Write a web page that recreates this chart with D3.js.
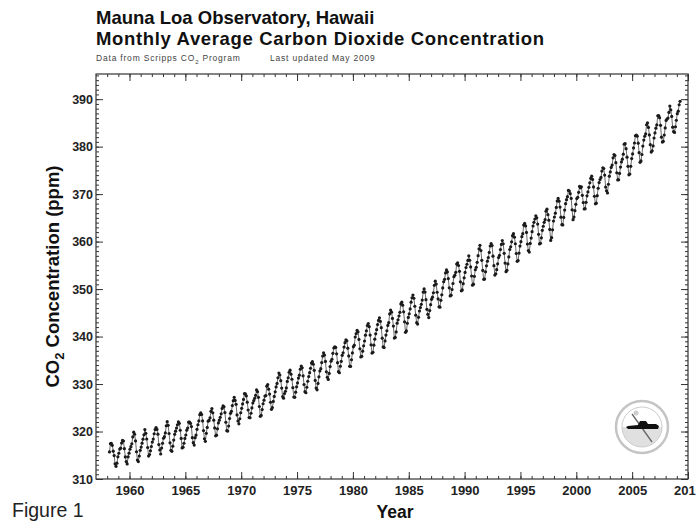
<!DOCTYPE html>
<html>
<head>
<meta charset="utf-8">
<script src="https://cdn.jsdelivr.net/npm/d3@7"></script>
<style>
  body { margin: 0; background: #fff; }
  svg { display: block; font-family: "Liberation Sans", Arial, sans-serif; }
</style>
</head>
<body>
<svg></svg>
<script>
const width = 696;
const height = 521;
const svg = d3.select("svg").attr("width", width).attr("height", height);

// monthly means (ppm), one row per year, Jan..Dec; null = no value
const years = [1958, 1959, 1960, 1961, 1962, 1963, 1964, 1965, 1966, 1967, 1968, 1969,
  1970, 1971, 1972, 1973, 1974, 1975, 1976, 1977, 1978, 1979, 1980, 1981, 1982, 1983,
  1984, 1985, 1986, 1987, 1988, 1989, 1990, 1991, 1992, 1993, 1994, 1995, 1996, 1997,
  1998, 1999, 2000, 2001, 2002, 2003, 2004, 2005, 2006, 2007, 2008, 2009];

const monthly = [
  [null, null, 315.71, 317.45, 317.50, 317.10, 315.86, 314.93, 313.20, 312.66, 313.33, 314.67],
  [315.42, 316.31, 316.50, 317.56, 318.13, 318.00, 316.39, 314.65, 313.68, 313.18, 314.66, 315.43],
  [316.27, 316.81, 317.42, 318.87, 319.87, 319.43, 318.01, 315.74, 314.00, 313.68, 314.84, 316.03],
  [316.73, 317.54, 318.38, 319.31, 320.42, 319.61, 318.42, 316.63, 314.83, 315.16, 315.94, 316.85],
  [317.78, 318.40, 319.53, 320.42, 320.85, 320.45, 319.45, 317.25, 316.11, 315.27, 316.53, 317.53],
  [318.58, 318.92, 319.70, 321.22, 322.08, 321.31, 319.58, 317.61, 316.05, 315.83, 316.91, 318.20],
  [319.41, 320.07, 320.74, 321.40, 322.06, 321.73, 320.27, 318.54, 316.54, 316.71, 317.53, 318.55],
  [319.27, 320.28, 320.73, 321.97, 322.00, 321.71, 321.05, 318.71, 317.66, 317.14, 318.70, 319.25],
  [320.46, 321.43, 322.23, 323.54, 323.91, 323.59, 322.24, 320.20, 318.48, 317.94, 319.63, 320.87],
  [322.17, 322.34, 322.88, 324.25, 324.83, 323.93, 322.38, 320.76, 319.10, 319.24, 320.56, 321.80],
  [322.40, 322.99, 323.73, 324.86, 325.40, 325.20, 323.98, 321.95, 320.18, 320.09, 321.16, 322.74],
  [323.83, 324.26, 325.47, 326.50, 327.21, 326.54, 325.72, 323.50, 322.22, 321.62, 322.69, 323.95],
  [324.89, 325.82, 326.77, 327.97, 327.91, 327.50, 326.18, 324.53, 322.93, 322.90, 323.85, 324.96],
  [326.01, 326.51, 327.01, 327.62, 328.76, 328.40, 327.20, 325.27, 323.20, 323.40, 324.63, 325.85],
  [326.60, 327.47, 327.58, 329.56, 329.90, 328.92, 327.88, 326.16, 324.68, 325.04, 326.34, 327.39],
  [328.37, 329.40, 330.14, 331.33, 332.31, 331.90, 330.70, 329.15, 327.35, 327.02, 327.99, 328.48],
  [329.18, 330.55, 331.32, 332.48, 332.92, 332.08, 331.01, 329.23, 327.27, 327.21, 328.29, 329.41],
  [330.23, 331.25, 331.87, 333.14, 333.80, 333.43, 331.73, 329.90, 328.40, 328.17, 329.32, 330.59],
  [331.58, 332.39, 333.33, 334.41, 334.71, 334.17, 332.89, 330.77, 329.14, 328.78, 330.14, 331.52],
  [332.75, 333.24, 334.53, 335.90, 336.57, 336.10, 334.76, 332.59, 331.42, 330.98, 332.24, 333.68],
  [334.80, 335.22, 336.47, 337.59, 337.84, 337.72, 336.37, 334.51, 332.60, 332.38, 333.75, 334.78],
  [336.05, 336.59, 337.79, 338.71, 339.30, 339.12, 337.56, 335.92, 333.75, 333.70, 335.12, 336.56],
  [337.84, 338.19, 339.91, 340.60, 341.29, 341.00, 339.39, 337.43, 335.72, 335.84, 336.93, 338.04],
  [339.06, 340.30, 341.21, 342.33, 342.74, 342.08, 340.32, 338.26, 336.52, 336.68, 338.19, 339.44],
  [340.57, 341.44, 342.53, 343.39, 343.96, 343.18, 341.88, 339.65, 337.81, 337.69, 339.09, 340.32],
  [341.20, 342.35, 342.93, 344.77, 345.58, 345.14, 343.81, 342.21, 339.69, 339.82, 340.98, 342.82],
  [343.52, 344.33, 345.11, 346.88, 347.25, 346.62, 345.22, 343.11, 340.90, 341.18, 342.80, 344.04],
  [344.79, 345.82, 347.25, 348.17, 348.74, 348.07, 346.38, 344.51, 342.92, 342.62, 344.06, 345.38],
  [346.11, 346.78, 347.68, 349.37, 350.03, 349.37, 347.76, 345.73, 344.68, 343.99, 345.48, 346.72],
  [347.84, 348.29, 349.23, 350.80, 351.66, 351.07, 349.33, 347.92, 346.27, 346.18, 347.64, 348.78],
  [350.25, 351.54, 352.05, 353.41, 354.04, 353.62, 352.22, 350.27, 348.55, 348.72, 349.91, 351.18],
  [352.60, 352.92, 353.53, 355.26, 355.52, 354.97, 353.75, 351.52, 349.64, 349.83, 351.14, 352.37],
  [353.50, 354.55, 355.23, 356.04, 357.00, 356.07, 354.67, 352.76, 350.82, 351.04, 352.69, 354.07],
  [354.59, 355.63, 357.03, 358.48, 359.22, 358.12, 356.06, 353.92, 352.05, 352.11, 353.64, 354.89],
  [355.88, 356.63, 357.72, 359.07, 359.58, 359.17, 356.94, 354.92, 352.94, 353.23, 354.09, 355.33],
  [356.63, 357.10, 358.32, 359.41, 360.23, 359.55, 357.53, 355.48, 353.67, 353.95, 355.30, 356.78],
  [358.34, 358.89, 359.95, 361.25, 361.67, 360.94, 359.55, 357.49, 355.84, 356.00, 357.59, 359.05],
  [359.98, 361.03, 361.66, 363.48, 363.82, 363.30, 361.94, 359.50, 358.11, 357.80, 359.61, 360.74],
  [362.09, 363.29, 364.06, 364.76, 365.45, 365.01, 363.70, 361.54, 359.51, 359.65, 360.80, 362.38],
  [363.23, 364.06, 364.61, 366.40, 366.84, 365.68, 364.52, 362.57, 360.24, 360.83, 362.49, 364.34],
  [365.18, 365.98, 367.20, 368.55, 369.09, 368.52, 367.28, 365.15, 363.56, 363.52, 365.10, 366.63],
  [367.98, 368.83, 369.46, 370.77, 370.66, 370.10, 369.10, 366.70, 364.61, 365.17, 366.51, 367.85],
  [369.07, 369.32, 370.38, 371.63, 371.32, 371.53, 369.75, 368.23, 366.87, 366.94, 368.27, 369.64],
  [370.47, 371.44, 372.39, 373.32, 373.77, 373.09, 371.51, 369.55, 367.96, 368.09, 369.68, 371.24],
  [372.44, 373.08, 373.52, 374.85, 375.55, 375.40, 374.02, 371.48, 370.71, 370.25, 372.08, 373.78],
  [374.68, 375.63, 376.11, 377.65, 378.35, 378.13, 376.62, 374.50, 373.00, 373.03, 374.35, 375.69],
  [376.79, 377.37, 378.41, 380.52, 380.63, 379.57, 377.79, 375.86, 374.06, 374.24, 375.86, 377.48],
  [378.46, 379.73, 380.77, 382.29, 382.45, 382.21, 380.74, 378.74, 376.70, 377.00, 378.35, 380.11],
  [381.38, 382.19, 382.67, 384.61, 385.03, 384.05, 382.46, 380.41, 378.85, 379.13, 380.15, 381.82],
  [382.89, 383.90, 384.58, 386.50, 386.56, 386.10, 384.50, 381.99, 380.96, 381.12, 382.45, 383.95],
  [385.52, 385.82, 386.03, 387.21, 388.54, 387.76, 386.36, 384.09, 383.18, 382.99, 384.19, 385.56],
  [386.94, 387.48, 388.82, 389.55]
];

const xTicks = [1960, 1965, 1970, 1975, 1980, 1985, 1990, 1995, 2000, 2005, 2010];
const yTicks = [310, 320, 330, 340, 350, 360, 370, 380, 390];

const points = [];
years.forEach((yr, i) => {
  monthly[i].forEach((v, m) => {
    if (v != null) points.push({ t: yr + (m + 0.5) / 12, v: v });
  });
});

const plotL = 96, plotR = 688, plotT = 74, plotB = 479;
const x = d3.scaleLinear().domain([1957, 2010]).range([plotL, plotR]);
const y = d3.scaleLinear().domain([310, 395.3]).range([plotB, plotT]);

const axisColor = "#333";

// frame
svg.append("rect")
  .attr("x", plotL).attr("y", plotT)
  .attr("width", plotR - plotL).attr("height", plotB - plotT)
  .attr("fill", "none").attr("stroke", axisColor).attr("stroke-width", 1.2);

// inward ticks on all four sides
const minorYears = d3.range(1958, 2010);
const minorPpm = d3.range(311, 396);

function tickGroup(axis, tf) {
  const g = svg.append("g").attr("transform", tf).call(axis);
  g.select(".domain").remove();
  g.selectAll(".tick line").attr("stroke", axisColor);
  return g;
}

tickGroup(d3.axisBottom(x).tickValues(minorYears).tickSize(-3).tickFormat(""), `translate(0,${plotB})`);
tickGroup(d3.axisTop(x).tickValues(minorYears).tickSize(-3).tickFormat(""), `translate(0,${plotT})`);
tickGroup(d3.axisLeft(y).tickValues(minorPpm).tickSize(-3).tickFormat(""), `translate(${plotL},0)`);
tickGroup(d3.axisRight(y).tickValues(minorPpm).tickSize(-3).tickFormat(""), `translate(${plotR},0)`);
tickGroup(d3.axisTop(x).tickValues(xTicks).tickSize(-7).tickFormat(""), `translate(0,${plotT})`);
tickGroup(d3.axisRight(y).tickValues(yTicks).tickSize(-7).tickFormat(""), `translate(${plotR},0)`);

const xAxis = tickGroup(d3.axisBottom(x).tickValues(xTicks).tickSize(-7).tickPadding(7).tickFormat(d3.format("d")),
  `translate(0,${plotB})`);
xAxis.selectAll("text")
  .attr("font-size", 13).attr("font-weight", "bold").attr("fill", "#222")
  .attr("font-family", "Liberation Sans, Arial, sans-serif");

const yAxis = tickGroup(d3.axisLeft(y).tickValues(yTicks).tickSize(-7).tickPadding(3).tickFormat(d3.format("d")),
  `translate(${plotL},0)`);
yAxis.selectAll("text")
  .attr("font-size", 12.5).attr("font-weight", "bold").attr("fill", "#222")
  .attr("font-family", "Liberation Sans, Arial, sans-serif");

// data
svg.append("path")
  .datum(points)
  .attr("fill", "none")
  .attr("stroke", "#444")
  .attr("stroke-width", 0.8)
  .attr("d", d3.line().x(d => x(d.t)).y(d => y(d.v)));

svg.append("g")
  .selectAll("circle")
  .data(points)
  .join("circle")
  .attr("cx", d => x(d.t))
  .attr("cy", d => y(d.v))
  .attr("r", 1.6)
  .attr("fill", "#1a1a1a");

// titles
svg.append("text").attr("x", 96).attr("y", 24)
  .attr("font-size", 18.5).attr("font-weight", "bold").attr("fill", "#111")
  .text("Mauna Loa Observatory, Hawaii");
svg.append("text").attr("x", 96).attr("y", 45)
  .attr("font-size", 18.5).attr("font-weight", "bold").attr("fill", "#111")
  .attr("letter-spacing", 0.65)
  .text("Monthly Average Carbon Dioxide Concentration");

const sub = svg.append("text").attr("x", 96).attr("y", 61)
  .attr("font-size", 8.5).attr("letter-spacing", 0.8).attr("fill", "#444");
sub.append("tspan").text("Data from Scripps CO");
sub.append("tspan").attr("font-size", 6).attr("dy", 2.5).text("2");
sub.append("tspan").attr("dy", -2.5).text(" Program");
svg.append("text").attr("x", 270).attr("y", 61)
  .attr("font-size", 8.5).attr("letter-spacing", 0.8).attr("fill", "#444")
  .text("Last updated May 2009");

// axis titles
const yl = svg.append("text")
  .attr("transform", `translate(59,${(plotT + plotB) / 2}) rotate(-90)`)
  .attr("text-anchor", "middle")
  .attr("font-size", 18.5).attr("font-weight", "bold").attr("fill", "#111");
yl.append("tspan").text("CO");
yl.append("tspan").attr("font-size", 13).attr("dy", 5).text("2");
yl.append("tspan").attr("dy", -5).text(" Concentration (ppm)");

svg.append("text")
  .attr("x", (plotL + plotR) / 2 + 3).attr("y", 518)
  .attr("text-anchor", "middle")
  .attr("font-size", 17.5).attr("font-weight", "bold").attr("fill", "#111")
  .text("Year");

svg.append("text")
  .attr("x", 12).attr("y", 517)
  .attr("font-size", 19.5).attr("fill", "#222")
  .text("Figure 1");

// observatory emblem
const logo = svg.append("g").attr("transform", "translate(642,427)");
logo.append("circle").attr("r", 26).attr("fill", "#fff").attr("stroke", "#c4c4c4").attr("stroke-width", 2.5);
logo.append("path")
  .attr("d", d3.arc()({ innerRadius: 0, outerRadius: 20, startAngle: Math.PI / 2, endAngle: Math.PI * 1.5 }))
  .attr("fill", "#e0e0e0");
logo.append("circle").attr("r", 20).attr("fill", "none").attr("stroke", "#cccccc").attr("stroke-width", 1);
logo.append("line").attr("x1", -10).attr("y1", -13).attr("x2", 10).attr("y2", 15)
  .attr("stroke", "#666").attr("stroke-width", 1.3);
logo.append("path")
  .attr("d", "M-16,0 L-14,-1 L-4,-2 L-2,-6 L4,-6 L6,-3 L14,-3 L17,-1 L16,2 L-14,2 Z")
  .attr("fill", "#111");
logo.append("circle").attr("cx", -6).attr("cy", -14).attr("r", 2.5).attr("fill", "#ccc");
</script>
</body>
</html>
